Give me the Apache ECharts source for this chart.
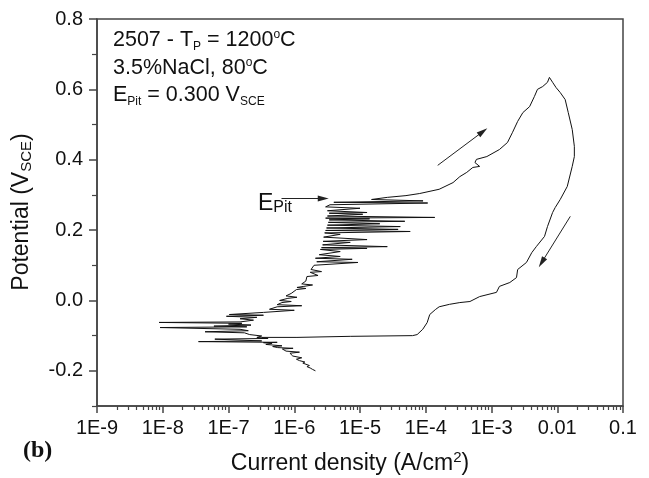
<!DOCTYPE html>
<html><head><meta charset="utf-8">
<script src="https://cdn.jsdelivr.net/npm/echarts@6/dist/echarts.min.js"></script>
<style>html,body{margin:0;padding:0;background:#fff}#c{width:649px;height:478px}</style>
</head><body><div id="c"></div>
<script>
const currentTickLabels = ['1E-9','1E-8','1E-7','1E-6','1E-5','1E-4','1E-3','0.01','0.1'];
const potentialTickValues = [-0.2, 0, 0.2, 0.4, 0.6, 0.8];
const potentialMinorTicks = [-0.3, -0.1, 0.1, 0.3, 0.5, 0.7];
const minorMultipliers = [2, 3, 4, 5, 6, 7, 8, 9];

// forward scan: [current density A/cm2, potential V]
const forwardScan = [
 [2.1e-6,-0.200],[1.9e-6,-0.196],[1.75e-6,-0.192],[1.56e-6,-0.188],[1.7e-6,-0.185],
 [1.35e-6,-0.178],[1.45e-6,-0.175],[1.2e-6,-0.171],[1.08e-6,-0.167],[1.3e-6,-0.163],
 [9.5e-7,-0.158],[8.6e-7,-0.150],[1.2e-6,-0.147],[7.5e-7,-0.144],[6.6e-7,-0.138],
 [9.6e-7,-0.136],[5.6e-7,-0.134],[4.7e-7,-0.131],[6.5e-7,-0.129],[3.7e-7,-0.125],
 [4.6e-7,-0.122],
 [3.4e-7,-0.120],[5.5e-7,-0.119],[3.5e-8,-0.117],[3.2e-7,-0.115],[6.2e-8,-0.110],
 [4.0e-7,-0.108],[2.7e-7,-0.105],[3.2e-7,-0.101],[2.1e-7,-0.097],[1.75e-7,-0.092],
 [4.4e-8,-0.089],[2.0e-7,-0.086],[1.5e-7,-0.082],[9.1e-9,-0.077],[1.9e-7,-0.075],
 [6e-8,-0.073],[2.2e-7,-0.070],[1.0e-7,-0.067],[1.6e-7,-0.065],[8.8e-9,-0.0625],
 [1.5e-7,-0.061],[2.4e-7,-0.056],[1.5e-7,-0.052],[2.7e-7,-0.048],[9.3e-8,-0.045],
 [3.4e-7,-0.042],[1.03e-7,-0.040],[3.4e-7,-0.034],[1.0e-6,-0.028],[4.2e-7,-0.025],
 [5.5e-7,-0.018],[1.3e-6,-0.015],[5.5e-7,-0.012],[6.5e-7,-0.006],[9e-7,-0.003],
 [6e-7,0.000],[8e-7,0.006],[1.1e-6,0.009],[7.5e-7,0.013],[9e-7,0.020],
 [1.08e-6,0.031],[1.5e-6,0.034],[1.1e-6,0.037],[1.4e-6,0.040],[1.9e-6,0.044],
 [1.3e-6,0.047],[1.5e-6,0.055],[1.56e-6,0.068],[2.3e-6,0.071],[1.75e-6,0.080],
 [2.6e-6,0.082],[1.8e-6,0.088],[2.0e-6,0.100],[9.3e-6,0.108],[2.2e-6,0.110],
 [7.6e-6,0.117],[2.1e-6,0.120],[5e-6,0.125],[2.4e-6,0.130],[5e-6,0.139],
 [2.5e-6,0.145],[1.28e-5,0.148],[2.6e-6,0.150],[2.6e-5,0.153],[2.7e-6,0.158],
 [7.1e-6,0.165],[2.75e-6,0.168],[1.28e-5,0.173],[2.8e-6,0.180],[5e-6,0.188],
 [2.9e-6,0.192],[5.8e-5,0.196],[3.0e-6,0.199],[3.8e-5,0.202],[3.1e-6,0.206],
 [4.1e-5,0.210],[3.2e-6,0.214],[2e-5,0.218],[3.3e-6,0.222],[4.8e-5,0.225],
 [3.4e-6,0.229],[1.4e-5,0.232],[3.0e-6,0.234],[1.37e-4,0.236],[3.2e-6,0.240],
 [1.1e-5,0.245],[3.4e-6,0.248],[1.28e-5,0.250],[3.2e-6,0.255],[1.0e-5,0.262],
 [3.0e-6,0.266],[3.5e-6,0.272],[1.07e-4,0.277],[4e-6,0.279],[9.1e-5,0.283],
 [1.5e-5,0.287],
 [2.6e-5,0.293],[5e-5,0.298],[8.1e-5,0.304],[1.6e-4,0.316],[2.6e-4,0.335],
 [3.3e-4,0.352],[4.2e-4,0.364],[5.2e-4,0.378],[6.6e-4,0.381],[5.6e-4,0.392],
 [5.9e-4,0.401],[8.5e-4,0.409],[1.32e-3,0.429],[1.75e-3,0.449],[2.09e-3,0.478],
 [2.5e-3,0.509],[3.0e-3,0.534],[3.8e-3,0.551],[4.5e-3,0.580],[5.0e-3,0.600],
 [6.0e-3,0.608],[7.1e-3,0.620],[7.6e-3,0.634],[7.4e-3,0.638]
];

// reverse scan
const reverseScan = [
 [8.5e-3,0.620],[9.6e-3,0.605],[1.11e-2,0.591],[1.32e-2,0.571],[1.47e-2,0.534],
 [1.69e-2,0.486],[1.82e-2,0.438],[1.82e-2,0.409],[1.69e-2,0.381],[1.42e-2,0.324],
 [1.11e-2,0.287],[9.3e-3,0.264],[8.5e-3,0.250],[7.1e-3,0.210],[6.4e-3,0.182],
 [4.8e-3,0.153],[4.1e-3,0.136],[3.4e-3,0.108],[2.5e-3,0.088],[2.4e-3,0.065],
 [1.9e-3,0.051],[1.32e-3,0.040],[1.19e-3,0.023],[6.6e-4,0.011],[4.7e-4,-0.003],
 [3.3e-4,-0.006],[2.3e-4,-0.011],[1.6e-4,-0.018],[1.4e-4,-0.026],[1.15e-4,-0.040],
 [1.05e-4,-0.063],[9e-5,-0.082],[7.4e-5,-0.097],[6.3e-5,-0.100],[7.1e-6,-0.102],
 [1.1e-6,-0.105],[3.2e-7,-0.105]
];

// annotation arrows [start, end] in data coordinates
const scanArrows = [
 [[1.52e-4, 0.384], [7.4e-4, 0.480]],
 [[1.58e-2, 0.239], [5.8e-3, 0.108]],
 [[6.4e-7, 0.290], [2.76e-6, 0.290]]
];

const minorXTicks = [];
for (let n = -9; n < -1; n++) minorMultipliers.forEach(k => minorXTicks.push(n + Math.log10(k)));

const AX = '#444';
const FONT = 'Liberation Sans';
const TXT = '#111';
const chart = echarts.init(document.getElementById('c'), null, {renderer: 'canvas'});
const annRich = {
  n: {fontSize: 21.5, fontFamily: FONT, lineHeight: 24, fill: TXT},
  s: {fontSize: 12, fontFamily: FONT, lineHeight: 20.5, verticalAlign: 'bottom', fill: TXT},
  u: {fontSize: 12, fontFamily: FONT, lineHeight: 14, verticalAlign: 'top', fill: TXT}
};
chart.setOption({
  animation: false,
  backgroundColor: '#fff',
  grid: {left: 97, top: 19, right: 26, bottom: 72, show: true, borderColor: AX, borderWidth: 1.5, backgroundColor: 'transparent'},
  xAxis: [
    {type: 'log', logBase: 10, min: 1e-9, max: 0.1, interval: 1, splitNumber: 8,
     axisLine: {onZero: false, lineStyle: {color: AX, width: 1.5}},
     axisTick: {length: 7, lineStyle: {color: AX, width: 1.5}},
     axisLabel: {margin: 12, fontSize: 20, fontFamily: FONT, color: TXT,
       formatter: v => currentTickLabels[Math.round(Math.log10(v)) + 9]},
     splitLine: {show: false}},
    {type: 'value', min: -9, max: -1, position: 'bottom',
     axisLine: {show: false, onZero: false},
     axisTick: {show: true, length: 4, customValues: minorXTicks, lineStyle: {color: AX, width: 1.2}},
     axisLabel: {show: false}, splitLine: {show: false}}
  ],
  yAxis: [
    {type: 'value', min: -0.3, max: 0.8,
     axisLine: {show: true, onZero: false, lineStyle: {color: AX, width: 1.5}},
     axisTick: {show: true, length: 8, customValues: potentialTickValues, lineStyle: {color: AX, width: 1.5}},
     axisLabel: {margin: 14, fontSize: 20, fontFamily: FONT, color: TXT, customValues: potentialTickValues,
       formatter: v => v.toFixed(1)},
     splitLine: {show: false}},
    {type: 'value', min: -0.3, max: 0.8, position: 'left',
     axisLine: {show: false, onZero: false},
     axisTick: {show: true, length: 5, customValues: potentialMinorTicks, lineStyle: {color: AX, width: 1.2}},
     axisLabel: {show: false}, splitLine: {show: false}}
  ],
  series: [{
    type: 'line', xAxisIndex: 0, yAxisIndex: 0,
    data: forwardScan.concat(reverseScan),
    showSymbol: false, symbol: 'none',
    lineStyle: {color: '#111', width: 1},
    silent: true,
    markLine: {
      silent: true, symbol: ['none', 'triangle'], symbolSize: [6, 11],
      label: {show: false},
      lineStyle: {color: '#222', width: 1, type: 'solid'},
      data: scanArrows.map(a => [{coord: a[0]}, {coord: a[1]}])
    }
  }],
  graphic: [
    {type: 'text', x: 113, y: 28.5, style: {text: '{n|2507 - T}{s|P}{n| = 1200}{u|o}{n|C}', rich: annRich, verticalAlign: 'top'}},
    {type: 'text', x: 113, y: 56.5, style: {text: '{n|3.5%NaCl, 80}{u|o}{n|C}', rich: annRich, verticalAlign: 'top'}},
    {type: 'text', x: 113, y: 83.5, style: {text: '{n|E}{s|Pit}{n| = 0.300 V}{s|SCE}', rich: annRich, verticalAlign: 'top'}},
    {type: 'text', x: 258, y: 191.7, style: {text: '{e|E}{p|Pit}', verticalAlign: 'top', rich: {
      e: {fontSize: 23, fontFamily: FONT, lineHeight: 24, fill: TXT},
      p: {fontSize: 16, fontFamily: FONT, lineHeight: 5, verticalAlign: 'bottom', fill: TXT}}}},
    {type: 'text', x: 350, y: 450.7, style: {text: '{n|Current density (A/cm}{u|2}{n|)}', align: 'center', verticalAlign: 'top', rich: {
      n: {fontSize: 23, fontFamily: FONT, lineHeight: 26, fill: TXT},
      u: {fontSize: 15, fontFamily: FONT, lineHeight: 8, verticalAlign: 'top', fill: TXT}}}},
    {type: 'text', x: 8.7, y: 212, rotation: Math.PI / 2, style: {text: '{n|Potential (V}{s|SCE}{n|)}', align: 'center', verticalAlign: 'top', rich: {
      n: {fontSize: 23, fontFamily: FONT, lineHeight: 26, fill: TXT},
      s: {fontSize: 15, fontFamily: FONT, lineHeight: 20, verticalAlign: 'bottom', fill: TXT}}}},
    {type: 'text', x: 23, y: 451, style: {text: '(b)', font: 'bold 24px "Liberation Serif"', fill: TXT, verticalAlign: 'middle'}}
  ]
});
</script></body></html>
